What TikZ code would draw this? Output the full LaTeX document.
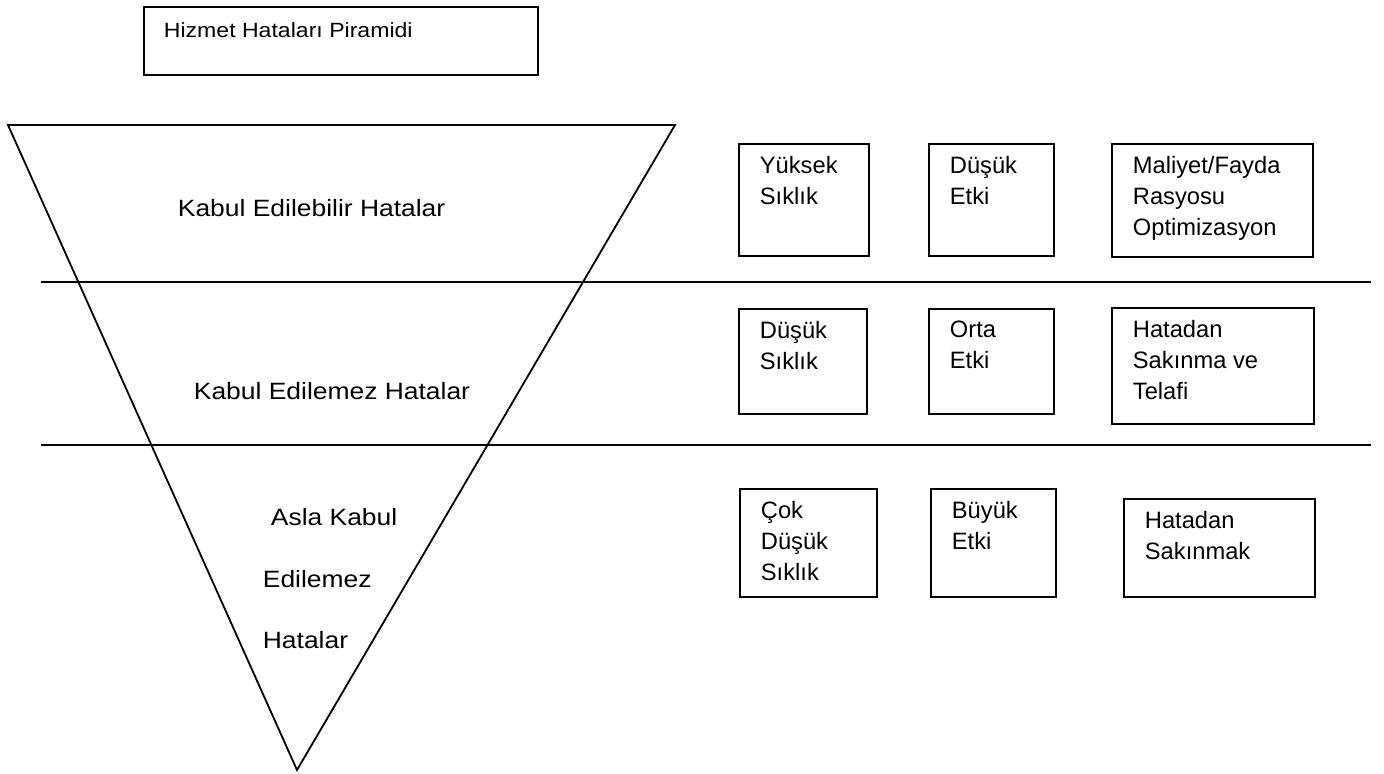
\documentclass[tikz,border=0pt]{standalone}
\usepackage{fontspec}
\setmainfont{Liberation Sans}
\newfontfamily\widesans{Liberation Sans}[FakeStretch=1.12]
\usetikzlibrary{positioning}
\tikzset{
  box/.style={draw,anchor=north west,inner sep=0pt},
  boxtext/.style={anchor=north west,inner sep=0pt,xshift=10.5pt,yshift=-6.15pt,align=left,
    font=\fontsize{11.85}{15.5}\selectfont,execute at begin node=\strut},
  sidetext/.style={anchor=base west,inner sep=0pt,font=\widesans\fontsize{11.8}{14}\selectfont}
}
\begin{document}
\begin{tikzpicture}[x=0.5pt,y=-0.5pt,line width=0.9pt]
        \useasboundingbox (0,0) rectangle (1384,773);
        \node[box,minimum width=197pt,minimum height=34pt] (titlebox) at (143,6) {};
        \node[anchor=base west,inner sep=0pt,font=\widesans\fontsize{10.3}{12}\selectfont] (title) at (163,37) {Hizmet Hataları Piramidi};
        \coordinate (topleft) at (8,125);
        \coordinate (topright) at (675,125);
        \coordinate (apex) at (297,770);
        \draw (topleft) -- (topright) -- (apex) -- cycle;
        \draw (41,282) -- (1371,282);
        \draw (41,445) -- (1371,445);
        \node[sidetext] (acc) at (177,216) {Kabul Edilebilir Hatalar};
        \node[sidetext] (unacc) at (193,399) {Kabul Edilemez Hatalar};
        \node[sidetext] (never1) at (270,525) {Asla Kabul};
        \node[sidetext] (never2) at (262,587) {Edilemez};
        \node[sidetext] (never3) at (262,648) {Hatalar};
        \node[box,minimum width=65pt,minimum height=56pt] (freq1) at (738,143) {};
        \node[box,minimum width=62.5pt,minimum height=56pt] (imp1) at (928,143) {};
        \node[box,minimum width=100.5pt,minimum height=56.5pt] (act1) at (1111,143) {};
        \node[box,minimum width=64pt,minimum height=52.5pt] (freq2) at (738,308) {};
        \node[box,minimum width=62.5pt,minimum height=52.5pt] (imp2) at (928,308) {};
        \node[box,minimum width=101pt,minimum height=58pt] (act2) at (1111,307) {};
        \node[box,minimum width=68.5pt,minimum height=54pt] (freq3) at (739,488) {};
        \node[box,minimum width=62.5pt,minimum height=54pt] (imp3) at (930,488) {};
        \node[box,minimum width=95.5pt,minimum height=49pt] (act3) at (1123,498) {};
        \node[boxtext] (freq1t) at (freq1.north west) {Yüksek\\Sıklık};
        \node[boxtext] (imp1t) at (imp1.north west) {Düşük\\Etki};
        \node[boxtext] (act1t) at (act1.north west) {Maliyet/Fayda\\Rasyosu\\Optimizasyon};
        \node[boxtext] (freq2t) at (freq2.north west) {Düşük\\Sıklık};
        \node[boxtext] (imp2t) at (imp2.north west) {Orta\\Etki};
        \node[boxtext] (act2t) at (act2.north west) {Hatadan\\Sakınma ve\\Telafi};
        \node[boxtext] (freq3t) at (freq3.north west) {Çok\\Düşük\\Sıklık};
        \node[boxtext] (imp3t) at (imp3.north west) {Büyük\\Etki};
        \node[boxtext] (act3t) at (act3.north west) {Hatadan\\Sakınmak};
        \end{tikzpicture}
\end{document}
